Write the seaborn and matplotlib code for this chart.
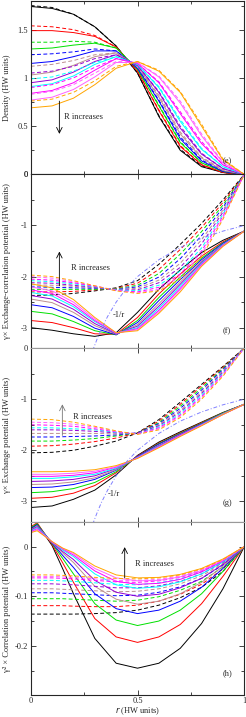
import matplotlib
matplotlib.use('Agg')
import pandas as pd
import matplotlib.pyplot as plt
import seaborn as sns
from matplotlib.ticker import MultipleLocator, FixedLocator, FuncFormatter

# ======================
# DATA
# ======================
R_LABELS = ['R1', 'R2', 'R3', 'R4', 'R5', 'R6', 'R7', 'R8', 'R9', 'R10']
COLORS = ['black', 'red', '#00e000', 'blue', '#bc8f8f', '#9400d3',
          'cyan', 'magenta', '#ff60ff', 'orange']

r_grid = [0.0, 0.1, 0.2, 0.3, 0.4, 0.5, 0.6, 0.7, 0.8, 0.9, 1.0]
r_grid_h = [0.0, 0.03, 0.1, 0.15, 0.2, 0.3, 0.4, 0.5, 0.6, 0.7, 0.8, 0.9, 1.0]

# (e) density
density_solid = [
    [1.74, 1.72, 1.66, 1.53, 1.33, 1.05, 0.60, 0.25, 0.08, 0.02, 0.0],
    [1.49, 1.49, 1.47, 1.43, 1.32, 1.07, 0.66, 0.29, 0.10, 0.02, 0.0],
    [1.30, 1.31, 1.34, 1.36, 1.31, 1.09, 0.71, 0.33, 0.12, 0.03, 0.0],
    [1.15, 1.17, 1.22, 1.28, 1.28, 1.10, 0.76, 0.37, 0.14, 0.03, 0.0],
    [1.03, 1.06, 1.13, 1.22, 1.26, 1.12, 0.80, 0.42, 0.17, 0.04, 0.0],
    [0.95, 0.98, 1.06, 1.17, 1.24, 1.13, 0.85, 0.48, 0.21, 0.06, 0.0],
    [0.91, 0.94, 1.02, 1.14, 1.22, 1.14, 0.90, 0.55, 0.26, 0.08, 0.0],
    [0.84, 0.87, 0.95, 1.08, 1.20, 1.15, 0.95, 0.63, 0.32, 0.10, 0.0],
    [0.77, 0.80, 0.88, 1.01, 1.16, 1.16, 1.01, 0.74, 0.40, 0.12, 0.0],
    [0.69, 0.71, 0.79, 0.93, 1.10, 1.17, 1.07, 0.85, 0.50, 0.15, 0.0],
]
density_dashed = [
    [1.75, 1.73, 1.66, 1.53, 1.33, 1.05, 0.61, 0.26, 0.09, 0.02, 0.0],
    [1.54, 1.53, 1.50, 1.44, 1.32, 1.07, 0.67, 0.30, 0.10, 0.02, 0.0],
    [1.37, 1.37, 1.38, 1.37, 1.31, 1.09, 0.72, 0.34, 0.12, 0.03, 0.0],
    [1.24, 1.25, 1.27, 1.30, 1.28, 1.11, 0.77, 0.39, 0.15, 0.04, 0.0],
    [1.12, 1.14, 1.18, 1.24, 1.26, 1.12, 0.82, 0.44, 0.18, 0.05, 0.0],
    [1.05, 1.07, 1.12, 1.20, 1.24, 1.13, 0.86, 0.50, 0.22, 0.06, 0.0],
    [0.99, 1.01, 1.07, 1.16, 1.22, 1.14, 0.91, 0.57, 0.27, 0.08, 0.0],
    [0.90, 0.93, 1.00, 1.11, 1.20, 1.15, 0.96, 0.65, 0.34, 0.10, 0.0],
    [0.83, 0.86, 0.93, 1.05, 1.17, 1.16, 1.02, 0.76, 0.42, 0.13, 0.0],
    [0.76, 0.78, 0.85, 0.97, 1.12, 1.17, 1.08, 0.86, 0.52, 0.16, 0.0],
]

# (f) exchange-correlation potential
xc_solid = [
    [-3.00, -3.05, -3.12, -3.17, -3.10, -2.70, -2.25, -1.87, -1.53, -1.29, -1.11],
    [-2.86, -2.90, -3.00, -3.12, -3.13, -2.80, -2.34, -1.95, -1.60, -1.32, -1.11],
    [-2.68, -2.73, -2.88, -3.06, -3.14, -2.86, -2.41, -2.01, -1.64, -1.34, -1.11],
    [-2.55, -2.61, -2.78, -3.01, -3.14, -2.90, -2.47, -2.06, -1.67, -1.35, -1.11],
    [-2.44, -2.51, -2.70, -2.96, -3.13, -2.94, -2.53, -2.11, -1.70, -1.37, -1.11],
    [-2.37, -2.44, -2.64, -2.92, -3.12, -2.97, -2.58, -2.15, -1.72, -1.38, -1.11],
    [-2.31, -2.38, -2.59, -2.88, -3.11, -3.00, -2.62, -2.19, -1.74, -1.38, -1.11],
    [-2.26, -2.33, -2.55, -2.86, -3.11, -3.02, -2.66, -2.23, -1.76, -1.39, -1.11],
    [-2.20, -2.28, -2.50, -2.83, -3.10, -3.04, -2.69, -2.26, -1.78, -1.40, -1.11],
    [-2.14, -2.22, -2.45, -2.80, -3.10, -3.06, -2.72, -2.30, -1.80, -1.41, -1.11],
]
xc_dashed = [
    [-2.37, -2.36, -2.33, -2.28, -2.22, -2.08, -1.76, -1.37, -0.96, -0.50, 0.0],
    [-2.30, -2.30, -2.29, -2.26, -2.23, -2.13, -1.86, -1.47, -1.04, -0.55, 0.0],
    [-2.25, -2.25, -2.25, -2.25, -2.24, -2.17, -1.94, -1.56, -1.12, -0.60, 0.0],
    [-2.20, -2.21, -2.22, -2.23, -2.25, -2.20, -2.01, -1.65, -1.20, -0.65, 0.0],
    [-2.16, -2.17, -2.19, -2.22, -2.25, -2.23, -2.07, -1.74, -1.28, -0.70, 0.0],
    [-2.12, -2.13, -2.17, -2.21, -2.26, -2.26, -2.12, -1.82, -1.36, -0.74, 0.0],
    [-2.08, -2.10, -2.14, -2.20, -2.26, -2.28, -2.17, -1.89, -1.44, -0.78, 0.0],
    [-2.05, -2.07, -2.12, -2.19, -2.27, -2.30, -2.21, -1.95, -1.50, -0.82, 0.0],
    [-2.00, -2.03, -2.10, -2.18, -2.27, -2.32, -2.25, -2.00, -1.56, -0.85, 0.0],
    [-1.97, -2.00, -2.08, -2.18, -2.28, -2.33, -2.28, -2.05, -1.62, -0.88, 0.0],
]

# (g) exchange potential
x_solid = [
    [-3.12, -3.09, -2.96, -2.78, -2.48, -2.10, -1.84, -1.64, -1.45, -1.26, -1.10],
    [-2.94, -2.92, -2.84, -2.69, -2.44, -2.11, -1.86, -1.66, -1.46, -1.27, -1.10],
    [-2.83, -2.81, -2.75, -2.63, -2.42, -2.12, -1.87, -1.67, -1.47, -1.27, -1.10],
    [-2.73, -2.72, -2.67, -2.57, -2.39, -2.12, -1.88, -1.68, -1.48, -1.28, -1.10],
    [-2.67, -2.66, -2.62, -2.54, -2.38, -2.13, -1.90, -1.69, -1.49, -1.28, -1.10],
    [-2.61, -2.60, -2.57, -2.50, -2.36, -2.13, -1.91, -1.70, -1.49, -1.29, -1.10],
    [-2.55, -2.55, -2.52, -2.47, -2.35, -2.14, -1.92, -1.71, -1.50, -1.29, -1.10],
    [-2.51, -2.51, -2.49, -2.44, -2.33, -2.15, -1.93, -1.71, -1.51, -1.30, -1.10],
    [-2.47, -2.47, -2.45, -2.41, -2.32, -2.15, -1.94, -1.72, -1.51, -1.30, -1.10],
    [-2.42, -2.42, -2.41, -2.38, -2.30, -2.16, -1.95, -1.73, -1.52, -1.30, -1.10],
]
x_dashed = [
    [-2.05, -2.04, -2.00, -1.92, -1.82, -1.66, -1.40, -1.06, -0.71, -0.36, 0.0],
    [-1.92, -1.91, -1.88, -1.83, -1.76, -1.66, -1.43, -1.10, -0.74, -0.38, 0.0],
    [-1.82, -1.82, -1.80, -1.77, -1.72, -1.66, -1.46, -1.14, -0.78, -0.40, 0.0],
    [-1.74, -1.74, -1.73, -1.72, -1.70, -1.66, -1.48, -1.18, -0.82, -0.42, 0.0],
    [-1.67, -1.67, -1.67, -1.67, -1.68, -1.67, -1.50, -1.22, -0.86, -0.45, 0.0],
    [-1.60, -1.60, -1.61, -1.63, -1.66, -1.67, -1.52, -1.25, -0.89, -0.47, 0.0],
    [-1.56, -1.56, -1.58, -1.60, -1.65, -1.68, -1.54, -1.28, -0.92, -0.49, 0.0],
    [-1.50, -1.51, -1.53, -1.58, -1.64, -1.68, -1.56, -1.31, -0.95, -0.51, 0.0],
    [-1.45, -1.46, -1.49, -1.55, -1.63, -1.68, -1.58, -1.33, -0.97, -0.53, 0.0],
    [-1.39, -1.40, -1.45, -1.53, -1.62, -1.69, -1.60, -1.36, -1.00, -0.55, 0.0],
]

# (h) correlation potential
c_solid = [
    [0.035, 0.046, 0.002, -0.045, -0.095, -0.185, -0.235, -0.245, -0.235, -0.205, -0.155, -0.085, 0.0],
    [0.040, 0.048, 0.004, -0.033, -0.072, -0.145, -0.182, -0.193, -0.182, -0.157, -0.115, -0.060, 0.0],
    [0.038, 0.046, 0.006, -0.024, -0.055, -0.115, -0.148, -0.159, -0.150, -0.128, -0.095, -0.050, 0.0],
    [0.036, 0.044, 0.007, -0.018, -0.042, -0.095, -0.125, -0.135, -0.128, -0.110, -0.082, -0.044, 0.0],
    [0.034, 0.042, 0.008, -0.013, -0.032, -0.080, -0.106, -0.116, -0.110, -0.095, -0.072, -0.040, 0.0],
    [0.033, 0.040, 0.008, -0.010, -0.026, -0.068, -0.092, -0.100, -0.096, -0.083, -0.064, -0.036, 0.0],
    [0.031, 0.038, 0.009, -0.007, -0.020, -0.055, -0.077, -0.084, -0.081, -0.071, -0.055, -0.031, 0.0],
    [0.030, 0.036, 0.009, -0.005, -0.017, -0.049, -0.070, -0.076, -0.074, -0.066, -0.051, -0.029, 0.0],
    [0.029, 0.034, 0.010, -0.004, -0.014, -0.044, -0.063, -0.069, -0.068, -0.061, -0.048, -0.027, 0.0],
    [0.028, 0.032, 0.010, -0.003, -0.012, -0.039, -0.057, -0.063, -0.062, -0.056, -0.044, -0.025, 0.0],
]
c_dashed = [
    [-0.136, -0.136, -0.136, -0.136, -0.136, -0.135, -0.133, -0.128, -0.118, -0.103, -0.082, -0.050, 0.0],
    [-0.119, -0.119, -0.119, -0.119, -0.120, -0.121, -0.121, -0.118, -0.110, -0.096, -0.076, -0.045, 0.0],
    [-0.105, -0.105, -0.105, -0.105, -0.106, -0.108, -0.110, -0.108, -0.101, -0.088, -0.070, -0.041, 0.0],
    [-0.093, -0.093, -0.093, -0.094, -0.095, -0.097, -0.099, -0.098, -0.092, -0.081, -0.064, -0.037, 0.0],
    [-0.085, -0.085, -0.085, -0.086, -0.087, -0.089, -0.091, -0.090, -0.085, -0.075, -0.059, -0.034, 0.0],
    [-0.075, -0.075, -0.075, -0.076, -0.077, -0.080, -0.083, -0.083, -0.079, -0.070, -0.055, -0.032, 0.0],
    [-0.068, -0.068, -0.068, -0.069, -0.070, -0.073, -0.076, -0.077, -0.073, -0.065, -0.051, -0.030, 0.0],
    [-0.063, -0.063, -0.063, -0.064, -0.065, -0.068, -0.071, -0.072, -0.069, -0.062, -0.049, -0.028, 0.0],
    [-0.060, -0.060, -0.060, -0.061, -0.062, -0.065, -0.068, -0.068, -0.066, -0.059, -0.046, -0.027, 0.0],
    [-0.057, -0.057, -0.057, -0.058, -0.059, -0.062, -0.064, -0.065, -0.063, -0.057, -0.045, -0.026, 0.0],
]

# -1/r reference curve
inv_r_x = [0.29, 0.31, 0.33, 0.36, 0.40, 0.45, 0.50, 0.60, 0.70, 0.80, 0.90, 1.00]
inv_r_y = [-3.45, -3.23, -3.03, -2.78, -2.50, -2.22, -2.00, -1.67, -1.43, -1.25, -1.11, -1.00]


def panel_frame(grid, solid, dashed):
    rows = []
    for i in range(len(R_LABELS)):
        for x, y in zip(grid, solid[i]):
            rows.append((x, y, R_LABELS[i], 'exact'))
        for x, y in zip(grid, dashed[i]):
            rows.append((x, y, R_LABELS[i], 'approx'))
    return pd.DataFrame(rows, columns=['r', 'v', 'R', 'kind'])


# ======================
# STYLE
# ======================
sns.set_style('ticks')
plt.rcParams['font.family'] = ['Liberation Serif', 'DejaVu Serif']
plt.rcParams['axes.unicode_minus'] = False
plt.rcParams['axes.linewidth'] = 0.8

fig, axes = plt.subplots(4, 1, figsize=(2.46, 7.17), dpi=100, sharex=True)
fig.subplots_adjust(left=0.125, right=0.993, top=0.999, bottom=0.03, hspace=0)

palette = dict(zip(R_LABELS, COLORS))
panels = [
    (r_grid, density_solid, density_dashed),
    (r_grid, xc_solid, xc_dashed),
    (r_grid, x_solid, x_dashed),
    (r_grid_h, c_solid, c_dashed),
]
for ax, (grid, sol, das) in zip(axes, panels):
    df = panel_frame(grid, sol, das)
    sns.lineplot(data=df, x='r', y='v', hue='R', style='kind',
                 hue_order=R_LABELS, style_order=['exact', 'approx'],
                 palette=palette, dashes={'exact': '', 'approx': (4, 2.5)},
                 estimator=None, sort=False, lw=0.7, legend=False, ax=ax)
    ax.set_xlabel('')

for ax in axes[1:3]:
    sns.lineplot(x=inv_r_x, y=inv_r_y, color='#8080ff', lw=0.7,
                 dashes=False, ax=ax).lines[-1].set_dashes((4, 2, 1, 2))

fmt = FuncFormatter(lambda v, p: '%g' % round(v, 3))
axes[0].set_ylim(0, 1.8)
axes[0].yaxis.set_major_locator(FixedLocator([0, 0.5, 1, 1.5]))
axes[0].yaxis.set_minor_locator(MultipleLocator(0.25))
for ax in axes[1:3]:
    ax.set_ylim(-3.4, 0)
    ax.yaxis.set_major_locator(FixedLocator([0, -1, -2, -3]))
    ax.yaxis.set_minor_locator(MultipleLocator(0.5))
axes[3].set_ylim(-0.3, 0.05)
axes[3].yaxis.set_major_locator(FixedLocator([0, -0.1, -0.2]))
axes[3].yaxis.set_minor_locator(MultipleLocator(0.05))

for ax in axes:
    ax.set_xlim(0, 1)
    ax.xaxis.set_major_locator(MultipleLocator(0.5))
    ax.xaxis.set_minor_locator(MultipleLocator(0.25))
    ax.xaxis.set_major_formatter(fmt)
    ax.yaxis.set_major_formatter(fmt)
    ax.tick_params(which='both', direction='in', top=True, right=True,
                   width=0.6, labelsize=6, pad=2)
    ax.tick_params(axis='x', pad=1)
    ax.tick_params(which='major', length=3.5)
    ax.tick_params(which='minor', length=2)
    for s in ax.spines.values():
        s.set_visible(True)
        s.set_linewidth(0.8)

axes[2].spines['top'].set_color('#999999')
axes[3].spines['top'].set_color('#999999')

ylabels = ['Density (HW units)',
           'γ× Exchange-correlation potential (HW units)',
           'γ× Exchange potential (HW units)',
           'γ² × Correlation potential (HW units)']
for ax, lab in zip(axes, ylabels):
    ax.set_ylabel(lab, fontsize=6)
    ax.yaxis.set_label_coords(-0.092, 0.5)

axes[3].set_xlabel('$\\it{r}$ (HW units)', fontsize=6, labelpad=0)

# annotations
arrow = dict(arrowstyle='->', lw=0.6, color='black', shrinkA=0, shrinkB=0)
axes[0].annotate('', xy=(0.134, 0.42), xytext=(0.134, 0.76), arrowprops=arrow)
axes[0].text(0.155, 0.60, 'R increases', fontsize=6, va='center')
axes[0].text(0.90, 0.14, '(e)', fontsize=6, va='center')

axes[1].annotate('', xy=(0.134, -1.51), xytext=(0.134, -2.18), arrowprops=arrow)
axes[1].text(0.19, -1.84, 'R increases', fontsize=6, va='center')
axes[1].text(0.385, -2.76, '-1/r', fontsize=6, va='center')
axes[1].text(0.90, -3.06, '(f)', fontsize=6, va='center')

axes[2].annotate('', xy=(0.148, -1.10), xytext=(0.148, -1.71),
                 arrowprops=dict(arrow, color='#777777'))
axes[2].text(0.20, -1.35, 'R increases', fontsize=6, va='center')
axes[2].text(0.36, -2.85, '-1/r', fontsize=6, va='center')
axes[2].text(0.90, -3.04, '(g)', fontsize=6, va='center')

axes[3].annotate('', xy=(0.44, -0.001), xytext=(0.44, -0.063), arrowprops=arrow)
axes[3].text(0.49, -0.035, 'R increases', fontsize=6, va='center')
axes[3].text(0.90, -0.255, '(h)', fontsize=6, va='center')

plt.savefig('out.png', dpi=100)
plt.close()
